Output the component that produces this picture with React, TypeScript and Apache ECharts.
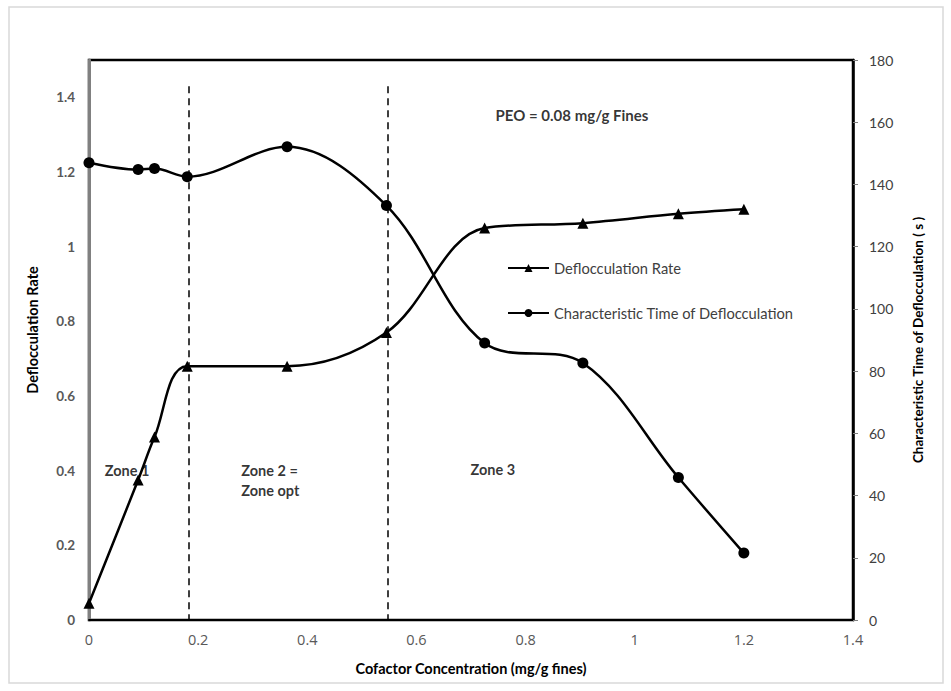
import React, { useEffect, useRef } from "react";
import * as echarts from "echarts";

const concentration = [0, 0.09, 0.12, 0.18, 0.363, 0.545, 0.725, 0.905, 1.08, 1.2];
const deflocRate = [0.045, 0.375, 0.49, 0.68, 0.68, 0.77, 1.05, 1.063, 1.088, 1.1];
const charTime = [147, 144.8, 145.1, 142.5, 152.1, 133.2, 89, 82.6, 45.8, 21.5];
const zoneBounds = [0.183, 0.547];
const zoneLabels = [
  { text: "Zone 1", x: 0.029, y: 0.4 },
  { text: "Zone 2 =\nZone opt", x: 0.279, y: 0.375 },
  { text: "Zone 3", x: 0.699, y: 0.402 },
];
const noteText = "PEO = 0.08 mg/g Fines";

const FONT = "Lato, 'Noto Sans', sans-serif";

export default function App() {
  const ref = useRef<HTMLDivElement>(null);
  useEffect(() => {
    if (!ref.current) return;
    const chart = echarts.init(ref.current, null, { renderer: "svg" });
    const lineData = concentration.map((x, i) => [x, deflocRate[i]]);
    const timeData = concentration.map((x, i) => [x, charTime[i]]);
    const zoneData = zoneLabels.map((z) => ({
      value: [z.x, z.y],
      label: { formatter: z.text, fontSize: 14.5 },
    }));
    chart.setOption({
      animation: false,
      backgroundColor: "#ffffff",
      textStyle: { fontFamily: FONT },
      grid: {
        left: 89,
        right: 98,
        top: 60,
        bottom: 71,
        show: true,
        borderColor: "#000000",
        borderWidth: 2.5,
        backgroundColor: "transparent",
      },
      graphic: [
        {
          type: "rect",
          shape: { x: 9, y: 7, width: 934, height: 676 },
          style: { fill: "none", stroke: "#d9d9d9", lineWidth: 1.5 },
          silent: true,
          z: -10,
        },
      ],
      legend: {
        orient: "vertical",
        left: 502,
        top: 255,
        itemGap: 29,
        itemWidth: 41,
        itemHeight: 10,
        textStyle: { fontFamily: FONT, fontSize: 14.7, color: "#404040", lineHeight: 16 },
        data: ["Deflocculation Rate", "Characteristic Time of Deflocculation"],
      },
      xAxis: {
        type: "value",
        min: 0,
        max: 1.4,
        interval: 0.2,
        name: "Cofactor Concentration (mg/g fines)",
        nameLocation: "middle",
        nameGap: 41,
        nameTextStyle: { fontFamily: FONT, fontSize: 14.5, fontWeight: "bold", color: "#000000" },
        axisLine: { show: true, lineStyle: { color: "#000000", width: 2 } },
        axisTick: { show: false },
        splitLine: { show: false },
        axisLabel: {
          margin: 12,
          fontFamily: "'Liberation Sans Narrow', 'Open Sans', sans-serif",
          fontSize: 14.5,
          color: "#595959",
        },
      },
      yAxis: [
        {
          type: "value",
          min: 0,
          max: 1.5,
          interval: 0.2,
          name: "Deflocculation Rate",
          nameLocation: "middle",
          nameGap: 49,
          nameRotate: 90,
          nameTextStyle: {
            fontFamily: FONT,
            fontSize: 14.5,
            fontWeight: "bold",
            color: "#000000",
            padding: [0, 0, 0, 20],
          },
          axisLine: { show: true, lineStyle: { color: "#808080", width: 3 } },
          axisTick: { show: false },
          splitLine: { show: false },
          axisLabel: {
            margin: 14,
            showMaxLabel: false,
            fontFamily: FONT,
            fontSize: 13.5,
            fontWeight: "bold",
            color: "#595959",
          },
        },
        {
          type: "value",
          min: 0,
          max: 180,
          interval: 20,
          position: "right",
          name: "Characteristic Time of Deflocculation ( s )",
          nameLocation: "middle",
          nameGap: 58,
          nameRotate: 90,
          nameTextStyle: { fontFamily: FONT, fontSize: 13.5, fontWeight: "bold", color: "#000000" },
          axisLine: { show: true, lineStyle: { color: "#000000", width: 2.5 } },
          axisTick: { show: true, length: 5, lineStyle: { color: "#808080", width: 1 } },
          splitLine: { show: false },
          axisLabel: {
            margin: 16,
            fontFamily: FONT,
            fontSize: 14,
            color: "#404040",
          },
        },
      ],
      series: [
        {
          name: "Deflocculation Rate",
          type: "line",
          yAxisIndex: 0,
          data: lineData,
          smooth: 0.35,
          symbol: "triangle",
          symbolSize: 11,
          itemStyle: { color: "#000000" },
          lineStyle: { color: "#000000", width: 2.5 },
          z: 5,
          markLine: {
            silent: true,
            symbol: ["none", "none"],
            label: { show: false },
            lineStyle: { color: "#000000", width: 1.5, type: [7, 5] },
            data: zoneBounds.map((b) => [
              { coord: [b, 1.43] },
              { coord: [b, 0] },
            ]),
          },
        },
        {
          name: "Characteristic Time of Deflocculation",
          type: "line",
          yAxisIndex: 1,
          data: timeData,
          smooth: 0.35,
          symbol: "circle",
          symbolSize: 11,
          itemStyle: { color: "#000000" },
          lineStyle: { color: "#000000", width: 2.5 },
          z: 5,
        },
        {
          name: "annotations",
          type: "scatter",
          yAxisIndex: 0,
          symbolSize: 0,
          silent: true,
          data: [
            ...zoneData,
            { value: [0.745, 1.352], label: { formatter: noteText, fontSize: 15 } },
          ],
          label: {
            show: true,
            position: "right",
            distance: 0,
            align: "left",
            fontFamily: FONT,
            fontSize: 14.5,
            fontWeight: "bold",
            color: "#000000",
            lineHeight: 20,
          },
          z: 6,
        },
      ],
    });
    return () => chart.dispose();
  }, []);
  return (
    <div
      ref={ref}
      style={{ position: "absolute", left: 0, top: 0, width: 951, height: 691 }}
    />
  );
}
